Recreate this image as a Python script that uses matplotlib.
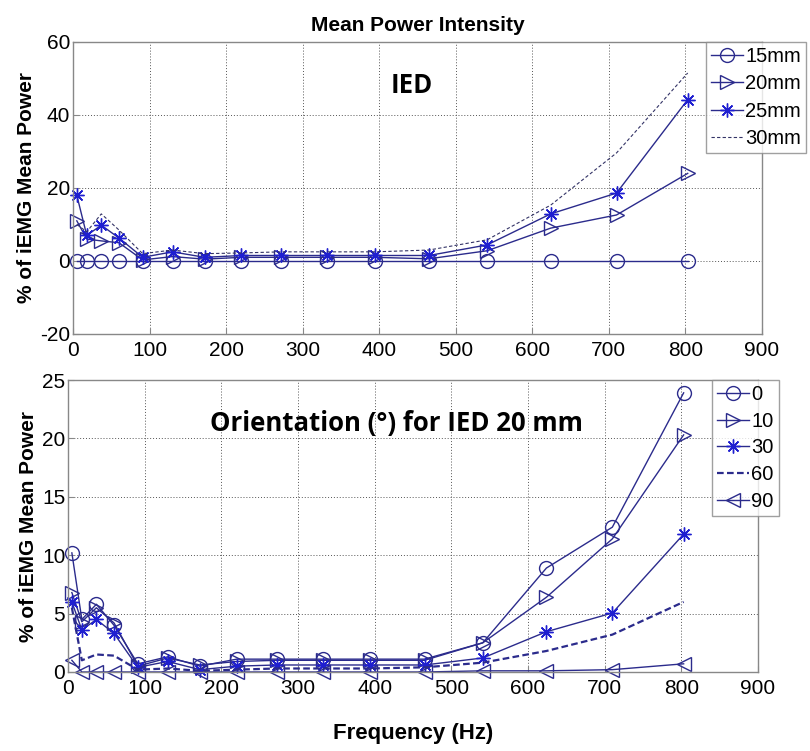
import matplotlib
matplotlib.use("Agg")
import matplotlib.pyplot as plt

plt.rcParams['font.family'] = ['Liberation Sans', 'DejaVu Sans']
plt.rcParams['axes.unicode_minus'] = False

freq = [5, 18, 37, 60, 91, 130, 172, 220, 272, 332, 394, 465, 541, 624, 710, 803]

# Top panel: IED
ied_labels = ['15mm', '20mm', '25mm', '30mm']
ied_15 = [0, 0, 0, 0, 0, 0, 0, 0, 0, 0, 0, 0, 0, 0, 0, 0]
ied_20 = [11, 6, 5.5, 5, 0.3, 1.2, 0.5, 1, 1, 1, 1, 0.6, 2.8, 9, 12.6, 24]
ied_25 = [18, 7, 9.8, 6.3, 1, 2.5, 1, 1.5, 1.5, 1.5, 1.5, 1.5, 4.4, 12.9, 18.6, 44.2]
ied_30 = [10, 8, 12.9, 8.5, 2, 3, 2, 2.2, 2.5, 2.5, 2.5, 3, 5.8, 15.3, 29.6, 51.5]

# Bottom panel: Orientation
ori_labels = ['0', '10', '30', '60', '90']
ori_0 = [10.2, 4.5, 5.8, 4, 0.7, 1.3, 0.5, 1.1, 1.1, 1.1, 1.1, 1.1, 2.5, 8.9, 12.4, 23.9]
ori_10 = [6.8, 4.3, 5.5, 4.2, 0.5, 1.2, 0.6, 0.9, 1, 1, 1, 1, 2.5, 6.4, 11.4, 20.3]
ori_30 = [6, 3.6, 4.5, 3.3, 0.4, 0.9, 0.2, 0.5, 0.6, 0.6, 0.6, 0.6, 1.2, 3.45, 5.05, 11.8]
ori_60 = [5.5, 1, 1.5, 1.4, 0.2, 0.3, 0.1, 0.2, 0.3, 0.3, 0.3, 0.4, 0.8, 1.8, 3.2, 6]
ori_90 = [1, 0, 0, 0, 0, 0, 0, 0, 0, 0, 0, 0, 0.1, 0.1, 0.2, 0.7]

C = '#2b2b8c'
CS = '#1f1fd0'
AST = (8, 2, 0)

fig = plt.figure(figsize=(8.1, 7.51), dpi=100)
ax1 = fig.add_axes([0.0901, 0.5553, 0.8506, 0.3888])
ax2 = fig.add_axes([0.0840, 0.1052, 0.8518, 0.3888])

def style(ax, ylim, yticks):
    ax.set_xlim(0, 900)
    ax.set_ylim(*ylim)
    ax.set_xticks(range(0, 901, 100))
    ax.set_yticks(yticks)
    ax.grid(True, linestyle=(0, (1, 2)), color='#555555', linewidth=0.7)
    ax.tick_params(direction='in', length=4, labelsize=15, pad=2, color='#888888')
    ax.tick_params(axis='x', pad=5)
    for s in ax.spines.values():
        s.set_color('#888888')
        s.set_linewidth(1.0)
    ax.set_ylabel('% of iEMG Mean Power', fontsize=15, fontweight='bold', labelpad=3)

ms = 10
kw = dict(lw=1.0, ms=ms, mfc='none', clip_on=False)
ax1.plot(freq, ied_15, color=C, marker='o', mec=C, label=ied_labels[0], **kw)
ax1.plot(freq, ied_20, color=C, marker='>', mec=C, label=ied_labels[1], **kw)
ax1.plot(freq, ied_25, color=C, marker=AST, mec=CS, label=ied_labels[2], **kw)
ax1.plot(freq, ied_30, color='#333366', lw=0.8, ls=(0, (3, 2)), label=ied_labels[3])
style(ax1, (-20, 60), range(-20, 61, 20))
ax1.legend(loc='upper right', bbox_to_anchor=(1.064, 1.0), fontsize=14.5, frameon=True,
           fancybox=False, edgecolor='#888888', borderpad=0.25, labelspacing=0.42,
           handlelength=1.6, handletextpad=0.1, borderaxespad=0.0)
ax1.text(442, 48.2, 'IED', fontsize=18.5, fontweight='bold', family=['Open Sans', 'DejaVu Sans'],
         ha='center', va='center')
ax1.set_title('Mean Power Intensity', fontsize=15, fontweight='bold', pad=8)

ax2.plot(freq, ori_0, color=C, marker='o', mec=C, label=ori_labels[0], **kw)
ax2.plot(freq, ori_10, color=C, marker='>', mec=C, label=ori_labels[1], **kw)
ax2.plot(freq, ori_30, color=C, marker=AST, mec=CS, label=ori_labels[2], **kw)
ax2.plot(freq, ori_60, color=C, lw=1.6, ls=(0, (3, 1.5)), label=ori_labels[3])
ax2.plot(freq, ori_90, color=C, marker='<', mec=C, label=ori_labels[4], **kw)
style(ax2, (0, 25), range(0, 26, 5))
ax2.legend(loc='upper right', bbox_to_anchor=(1.030, 1.0), fontsize=14.5, frameon=True,
           fancybox=False, edgecolor='#888888', borderpad=0.25, labelspacing=0.38,
           handlelength=1.6, handletextpad=0.1, borderaxespad=0.0)
ax2.text(428, 21.3, 'Orientation (°) for IED 20 mm', fontsize=18.5, fontweight='bold',
         family=['Open Sans', 'DejaVu Sans'], ha='center', va='center')
ax2.set_xlabel('Frequency (Hz)', fontsize=16, fontweight='bold', labelpad=18)

fig.savefig('out.png', dpi=100)
